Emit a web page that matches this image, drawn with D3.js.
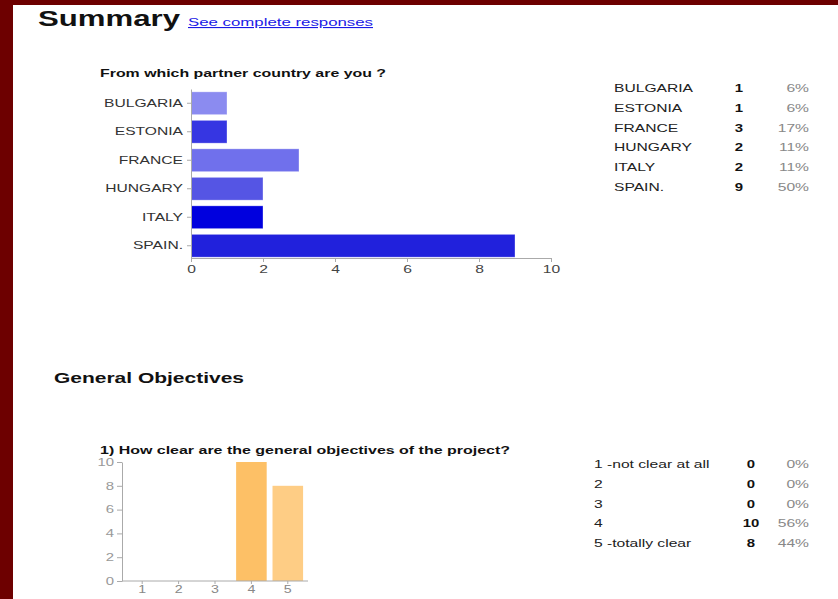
<!DOCTYPE html>
<html>
<head>
<meta charset="utf-8">
<script src="https://cdn.jsdelivr.net/npm/d3@7"></script>
<style>
  body { margin: 0; background: #fff; }
  svg { display: block; font-family: "Liberation Sans", Arial, sans-serif; }
</style>
</head>
<body>
<svg id="chart" width="838" height="599"></svg>
<script>
// country question
const countries = ["BULGARIA", "ESTONIA", "FRANCE", "HUNGARY", "ITALY", "SPAIN."];
const countryCounts = [1, 1, 3, 2, 2, 9];
const countryPercents = ["6%", "6%", "17%", "11%", "11%", "50%"];
const countryColours = ["#8b8bf0", "#3636e2", "#7070ec", "#5555e4", "#0000de", "#2121dc"];
const countryTicks = [0, 2, 4, 6, 8, 10];

// objectives question
const clarityCats = ["1", "2", "3", "4", "5"];
const clarityLabels = ["1 -not clear at all", "2", "3", "4", "5 -totally clear"];
const clarityCounts = [0, 0, 0, 10, 8];
const clarityPercents = ["0%", "0%", "0%", "56%", "44%"];
const clarityColours = ["#fdc066", "#fdc066", "#fdc066", "#fdc066", "#fecd85"];
const clarityTicks = [0, 2, 4, 6, 8, 10];

const STRETCH = 1.42; // the original screenshot is squeezed wide

const svg = d3.select("#chart");

// frame
svg.append("rect").attr("width", 838).attr("height", 599).attr("fill", "#fff");
svg.append("rect").attr("width", 13).attr("height", 599).attr("fill", "#6d0000");
svg.append("rect").attr("width", 838).attr("height", 5).attr("fill", "#6d0000");

// headings (width fixed to the reference)
const heading = (txt, x, y, size, w, opts = {}) => {
    const t = svg.append("text")
        .attr("class", "fixed")
        .attr("x", x).attr("y", y)
        .attr("font-size", size)
        .attr("font-weight", opts.weight || "bold")
        .attr("fill", opts.fill || "#111")
        .attr("textLength", w)
        .attr("lengthAdjust", "spacingAndGlyphs")
        .text(txt);
    if (opts.underline) t.style("text-decoration", "underline");
    return t;
};

heading("Summary", 38, 26, 22, 142);
heading("See complete responses", 188, 26, 11, 185, {weight: "normal", fill: "#1a1ae6", underline: true});
heading("From which partner country are you ?", 100, 77, 10.5, 286);
heading("General Objectives", 54, 383, 15, 190);
heading("1) How clear are the general objectives of the project?", 100, 454, 11, 410);

// ---- top bar chart ----
const xTop = d3.scaleLinear().domain([0, 10]).range([191, 551]);
const yTop = d3.scaleBand().domain(countries).range([89, 260]).paddingInner(0.2).paddingOuter(0.1);

svg.append("g")
    .selectAll("rect")
    .data(countries)
    .join("rect")
    .attr("x", xTop(0))
    .attr("y", d => yTop(d))
    .attr("width", (d, i) => xTop(countryCounts[i]) - xTop(0))
    .attr("height", yTop.bandwidth())
    .attr("fill", (d, i) => countryColours[i])
    .attr("stroke", "#fff").attr("stroke-opacity", 0.4).attr("stroke-width", 0.8);

const topX = svg.append("g")
    .attr("transform", "translate(0,258)")
    .call(d3.axisBottom(xTop).tickValues(countryTicks).tickSize(4).tickSizeOuter(0));
topX.select(".domain").attr("stroke", "#aaa");
topX.selectAll(".tick line").attr("stroke", "#aaa");
topX.selectAll("text").attr("font-size", 11).attr("fill", "#444").attr("font-family", null);

const topY = svg.append("g")
    .attr("transform", "translate(191,0)")
    .call(d3.axisLeft(yTop).tickSize(4).tickPadding(4).tickSizeOuter(0));
topY.select(".domain").attr("stroke", "#aaa");
topY.selectAll(".tick line").attr("stroke", "#aaa");
topY.selectAll("text").attr("font-size", 11).attr("fill", "#333").attr("font-family", null);

// top table
const topRowY = d3.scalePoint().domain(countries).range([92, 191]);
const topTable = svg.append("g");
topTable.selectAll(".lbl").data(countries).join("text")
    .attr("x", 614).attr("y", d => topRowY(d))
    .attr("font-size", 11).attr("fill", "#222").text(d => d);
topTable.selectAll(".cnt").data(countries).join("text")
    .attr("x", 739).attr("y", d => topRowY(d))
    .attr("text-anchor", "middle").attr("font-size", 10.5).attr("font-weight", "bold")
    .attr("fill", "#111").text((d, i) => countryCounts[i]);
topTable.selectAll(".pct").data(countries).join("text")
    .attr("x", 809).attr("y", d => topRowY(d))
    .attr("text-anchor", "end").attr("font-size", 11).attr("fill", "#888")
    .text((d, i) => countryPercents[i]);

// ---- bottom bar chart ----
const xBot = d3.scaleBand().domain(clarityCats).range([124, 306]).paddingInner(0.16).paddingOuter(0.08);
const yBot = d3.scaleLinear().domain([0, 10]).range([581, 462]);

svg.append("g")
    .selectAll("rect")
    .data(clarityCats)
    .join("rect")
    .attr("x", d => xBot(d))
    .attr("y", (d, i) => yBot(clarityCounts[i]))
    .attr("width", xBot.bandwidth())
    .attr("height", (d, i) => yBot(0) - yBot(clarityCounts[i]))
    .attr("fill", (d, i) => clarityColours[i]);

const botX = svg.append("g")
    .attr("transform", "translate(0,581)")
    .call(d3.axisBottom(xBot).tickSize(3).tickPadding(2).tickSizeOuter(0));
botX.select(".domain").attr("d", "M122,0H308").attr("stroke", "#aaa");
botX.selectAll(".tick line").attr("stroke", "#aaa");
botX.selectAll("text").attr("font-size", 10).attr("fill", "#888").attr("font-family", null);

const botY = svg.append("g")
    .attr("transform", "translate(122,0)")
    .call(d3.axisLeft(yBot).tickValues(clarityTicks).tickSize(5).tickPadding(3).tickSizeOuter(0));
botY.select(".domain").attr("stroke", "#aaa");
botY.selectAll(".tick line").attr("stroke", "#aaa");
botY.selectAll("text").attr("font-size", 10.5).attr("fill", "#999").attr("font-family", null);

// bottom table
const botRowY = d3.scalePoint().domain(clarityLabels).range([468, 547]);
const botTable = svg.append("g");
botTable.selectAll(".lbl").data(clarityLabels).join("text")
    .attr("x", 594).attr("y", d => botRowY(d))
    .attr("font-size", 11).attr("fill", "#222").text(d => d);
botTable.selectAll(".cnt").data(clarityLabels).join("text")
    .attr("x", 751).attr("y", d => botRowY(d))
    .attr("text-anchor", "middle").attr("font-size", 10.5).attr("font-weight", "bold")
    .attr("fill", "#111").text((d, i) => clarityCounts[i]);
botTable.selectAll(".pct").data(clarityLabels).join("text")
    .attr("x", 809).attr("y", d => botRowY(d))
    .attr("text-anchor", "end").attr("font-size", 11).attr("fill", "#888")
    .text((d, i) => clarityPercents[i]);

// widen every other text like the reference
svg.selectAll("text:not(.fixed)").each(function () {
    const w = this.getComputedTextLength();
    d3.select(this).attr("textLength", w * STRETCH).attr("lengthAdjust", "spacingAndGlyphs");
});
</script>
</body>
</html>
